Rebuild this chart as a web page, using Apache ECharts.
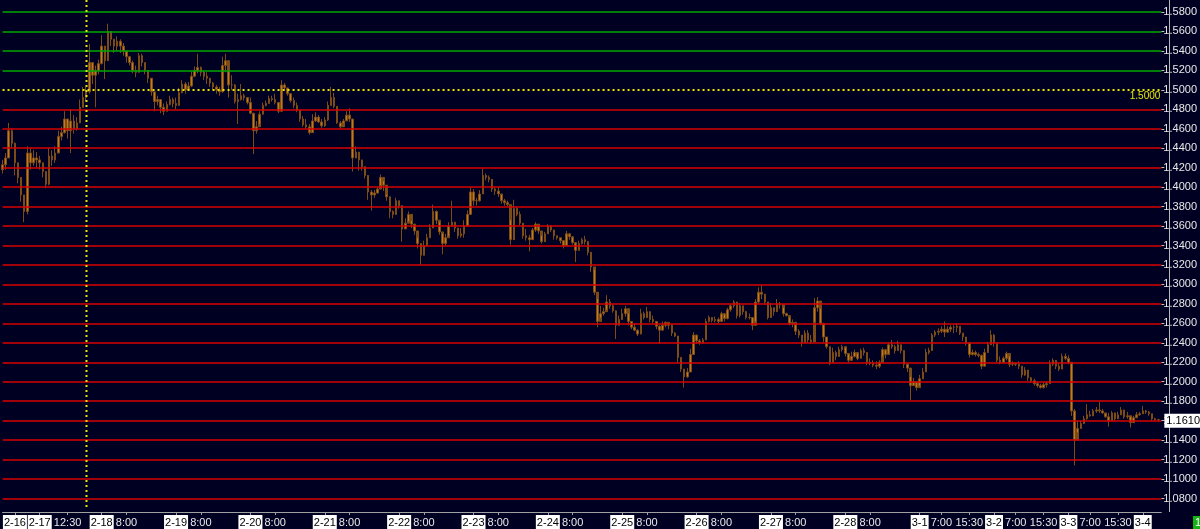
<!DOCTYPE html>
<html><head><meta charset="utf-8">
<script src="https://cdn.jsdelivr.net/npm/echarts/dist/echarts.min.js"></script>
<style>html,body{margin:0;padding:0;background:#000022;overflow:hidden}#c{width:1200px;height:529px}</style>
</head><body><div id="c"></div>
<script>
// ---- data (hourly candles; open of each candle = previous close) ----
const firstOpen = 1.418;
const closes = [
1.423,1.430,1.458,1.445,1.425,1.410,1.392,1.375,1.435,1.425,
1.430,1.428,1.425,1.416,1.403,1.432,1.428,1.435,1.452,1.456,
1.470,1.458,1.468,1.460,1.466,1.482,1.492,1.498,1.528,1.515,
1.520,1.527,1.545,1.530,1.560,1.552,1.545,1.550,1.545,1.540,
1.534,1.528,1.520,1.518,1.535,1.528,1.520,1.512,1.498,1.488,
1.490,1.482,1.478,1.485,1.490,1.486,1.484,1.497,1.506,1.500,
1.504,1.514,1.520,1.523,1.518,1.514,1.512,1.507,1.503,1.500,
1.498,1.525,1.530,1.505,1.505,1.488,1.490,1.494,1.492,1.487,
1.476,1.458,1.462,1.475,1.484,1.486,1.491,1.490,1.487,1.478,
1.505,1.502,1.496,1.489,1.484,1.479,1.470,1.464,1.462,1.456,
1.468,1.472,1.467,1.463,1.469,1.484,1.492,1.483,1.466,1.462,
1.468,1.474,1.470,1.430,1.436,1.428,1.421,1.412,1.395,1.392,
1.394,1.398,1.410,1.402,1.390,1.375,1.372,1.386,1.381,1.357,
1.363,1.372,1.362,1.355,1.342,1.330,1.340,1.348,1.358,1.375,
1.366,1.354,1.342,1.348,1.360,1.364,1.358,1.350,1.352,1.360,
1.372,1.395,1.386,1.386,1.393,1.412,1.410,1.408,1.398,1.396,
1.393,1.386,1.384,1.382,1.346,1.378,1.372,1.363,1.350,1.348,
1.346,1.356,1.362,1.355,1.344,1.352,1.360,1.356,1.350,1.348,
1.345,1.340,1.352,1.349,1.343,1.335,1.342,1.346,1.344,1.333,
1.318,1.292,1.262,1.270,1.272,1.282,1.278,1.273,1.258,1.264,
1.270,1.275,1.262,1.256,1.253,1.249,1.270,1.266,1.272,1.264,
1.262,1.257,1.253,1.258,1.261,1.258,1.250,1.247,1.225,1.213,
1.205,1.210,1.228,1.248,1.242,1.240,1.243,1.262,1.266,1.263,
1.264,1.262,1.270,1.265,1.274,1.278,1.282,1.268,1.278,1.272,
1.266,1.266,1.258,1.282,1.292,1.290,1.282,1.266,1.276,1.272,
1.280,1.279,1.270,1.268,1.260,1.261,1.252,1.248,1.240,1.250,
1.243,1.241,1.276,1.283,1.260,1.246,1.236,1.220,1.230,1.226,
1.233,1.236,1.229,1.222,1.226,1.230,1.224,1.232,1.230,1.220,
1.219,1.217,1.216,1.220,1.233,1.228,1.238,1.236,1.232,1.238,
1.232,1.218,1.214,1.196,1.200,1.194,1.203,1.210,1.230,1.232,
1.248,1.251,1.252,1.254,1.251,1.254,1.256,1.256,1.257,1.250,
1.246,1.240,1.228,1.230,1.228,1.227,1.216,1.230,1.238,1.248,
1.240,1.222,1.220,1.224,1.229,1.218,1.219,1.218,1.216,1.207,
1.212,1.204,1.201,1.198,1.196,1.194,1.197,1.198,1.218,1.222,
1.216,1.213,1.226,1.224,1.220,1.170,1.140,1.152,1.157,1.162,
1.166,1.165,1.170,1.171,1.170,1.168,1.164,1.160,1.168,1.162,
1.166,1.171,1.164,1.165,1.158,1.163,1.166,1.167,1.170,1.169,
1.167,1.162,1.161,1.161
];
const highs = [
1.428,1.435,1.466,1.460,1.446,1.425,1.410,1.392,1.442,1.440,
1.438,1.436,1.432,1.425,1.416,1.440,1.438,1.442,1.458,1.462,
1.478,1.470,1.480,1.474,1.472,1.490,1.503,1.503,1.547,1.528,
1.525,1.531,1.556,1.540,1.568,1.560,1.552,1.555,1.552,1.548,
1.540,1.535,1.530,1.525,1.538,1.537,1.528,1.520,1.512,1.498,
1.494,1.490,1.486,1.488,1.494,1.492,1.492,1.502,1.510,1.508,
1.508,1.519,1.524,1.537,1.524,1.520,1.518,1.512,1.508,1.505,
1.503,1.534,1.537,1.520,1.515,1.506,1.496,1.506,1.496,1.492,
1.492,1.475,1.468,1.478,1.487,1.489,1.494,1.494,1.496,1.487,
1.510,1.507,1.502,1.496,1.492,1.487,1.479,1.473,1.470,1.465,
1.475,1.477,1.474,1.470,1.472,1.488,1.503,1.497,1.480,1.468,
1.470,1.478,1.481,1.470,1.442,1.434,1.424,1.420,1.404,1.397,
1.397,1.400,1.413,1.406,1.392,1.389,1.376,1.389,1.386,1.370,
1.368,1.375,1.365,1.361,1.348,1.338,1.345,1.352,1.362,1.382,
1.376,1.364,1.352,1.352,1.364,1.386,1.364,1.358,1.358,1.366,
1.376,1.400,1.398,1.389,1.397,1.419,1.414,1.412,1.406,1.400,
1.400,1.392,1.388,1.386,1.366,1.387,1.380,1.375,1.361,1.357,
1.351,1.358,1.364,1.359,1.350,1.354,1.362,1.361,1.353,1.350,
1.348,1.345,1.355,1.353,1.348,1.342,1.345,1.348,1.350,1.340,
1.325,1.315,1.285,1.278,1.276,1.289,1.285,1.279,1.265,1.268,
1.275,1.278,1.270,1.262,1.260,1.254,1.275,1.272,1.277,1.270,
1.268,1.262,1.258,1.262,1.262,1.261,1.259,1.251,1.240,1.220,
1.213,1.214,1.234,1.251,1.248,1.244,1.245,1.265,1.268,1.266,
1.267,1.266,1.272,1.269,1.276,1.280,1.284,1.280,1.281,1.278,
1.273,1.270,1.266,1.285,1.297,1.299,1.287,1.279,1.281,1.276,
1.285,1.282,1.276,1.271,1.266,1.264,1.258,1.254,1.248,1.253,
1.253,1.248,1.286,1.287,1.275,1.258,1.246,1.236,1.235,1.232,
1.236,1.238,1.235,1.228,1.231,1.233,1.229,1.234,1.235,1.226,
1.224,1.222,1.221,1.222,1.235,1.232,1.240,1.243,1.238,1.242,
1.236,1.228,1.218,1.205,1.204,1.200,1.207,1.214,1.234,1.235,
1.250,1.253,1.255,1.257,1.262,1.257,1.258,1.258,1.260,1.257,
1.249,1.246,1.240,1.233,1.232,1.230,1.228,1.234,1.241,1.253,
1.249,1.240,1.226,1.226,1.231,1.226,1.221,1.220,1.221,1.214,
1.215,1.210,1.205,1.203,1.200,1.198,1.199,1.200,1.222,1.224,
1.220,1.219,1.229,1.229,1.227,1.219,1.172,1.160,1.160,1.165,
1.177,1.170,1.172,1.174,1.179,1.172,1.167,1.168,1.170,1.167,
1.169,1.174,1.169,1.169,1.164,1.165,1.169,1.169,1.175,1.171,
1.170,1.165,1.163,1.162
];
const lows = [
1.414,1.418,1.430,1.440,1.412,1.404,1.385,1.364,1.372,1.418,
1.422,1.420,1.418,1.410,1.399,1.402,1.422,1.425,1.436,1.448,
1.455,1.450,1.435,1.455,1.458,1.466,1.485,1.488,1.496,1.506,
1.482,1.516,1.526,1.511,1.530,1.545,1.538,1.540,1.538,1.535,
1.528,1.525,1.517,1.513,1.518,1.524,1.516,1.507,1.494,1.478,
1.484,1.476,1.474,1.478,1.484,1.482,1.480,1.484,1.497,1.496,
1.499,1.503,1.513,1.517,1.514,1.510,1.506,1.503,1.500,1.496,
1.494,1.497,1.518,1.492,1.500,1.486,1.465,1.489,1.489,1.485,
1.475,1.434,1.455,1.465,1.480,1.483,1.486,1.488,1.485,1.476,
1.478,1.499,1.494,1.487,1.481,1.477,1.467,1.462,1.460,1.454,
1.456,1.467,1.466,1.461,1.462,1.468,1.484,1.481,1.465,1.460,
1.466,1.469,1.467,1.416,1.430,1.417,1.417,1.409,1.387,1.376,
1.389,1.393,1.402,1.396,1.386,1.368,1.368,1.382,1.378,1.344,
1.358,1.365,1.358,1.351,1.337,1.320,1.333,1.343,1.353,1.358,
1.362,1.351,1.331,1.340,1.350,1.360,1.354,1.347,1.348,1.348,
1.361,1.372,1.381,1.381,1.385,1.393,1.407,1.405,1.395,1.392,
1.390,1.383,1.381,1.380,1.341,1.360,1.370,1.361,1.347,1.345,
1.334,1.346,1.354,1.352,1.342,1.347,1.352,1.354,1.346,1.346,
1.342,1.337,1.340,1.346,1.341,1.323,1.339,1.341,1.341,1.330,
1.313,1.289,1.256,1.266,1.268,1.274,1.275,1.271,1.244,1.260,
1.266,1.267,1.258,1.254,1.252,1.247,1.250,1.264,1.267,1.261,
1.260,1.254,1.239,1.253,1.256,1.254,1.247,1.246,1.220,1.210,
1.194,1.204,1.210,1.228,1.239,1.238,1.239,1.243,1.261,1.261,
1.261,1.260,1.262,1.262,1.264,1.272,1.276,1.265,1.266,1.269,
1.264,1.264,1.253,1.262,1.280,1.285,1.279,1.264,1.268,1.268,
1.274,1.275,1.267,1.267,1.258,1.256,1.248,1.245,1.236,1.241,
1.240,1.239,1.262,1.272,1.258,1.241,1.234,1.217,1.223,1.222,
1.229,1.231,1.226,1.220,1.223,1.225,1.222,1.226,1.227,1.217,
1.217,1.215,1.213,1.214,1.226,1.224,1.229,1.234,1.229,1.232,
1.229,1.214,1.210,1.181,1.196,1.191,1.196,1.207,1.212,1.228,
1.240,1.246,1.248,1.250,1.246,1.250,1.251,1.250,1.251,1.248,
1.242,1.237,1.225,1.227,1.226,1.225,1.213,1.216,1.230,1.238,
1.236,1.220,1.218,1.220,1.222,1.215,1.216,1.216,1.213,1.204,
1.206,1.201,1.199,1.196,1.194,1.193,1.193,1.194,1.198,1.216,
1.213,1.211,1.214,1.222,1.218,1.165,1.114,1.148,1.154,1.160,
1.161,1.164,1.166,1.168,1.168,1.167,1.163,1.154,1.165,1.160,
1.163,1.168,1.162,1.162,1.153,1.159,1.164,1.165,1.167,1.167,
1.165,1.160,1.160,1.159
];
// x tick labels: [hour-slot index, text]
const tickLabels = [
[4,'2-16'],[12,'2-17'],[21,'12:30'],[32,'2-18'],[40,'8:00'],[56,'2-19'],[64,'8:00'],
[80,'2-20'],[88,'8:00'],[104,'2-21'],[112,'8:00'],[128,'2-22'],[136,'8:00'],
[152,'2-23'],[160,'8:00'],[176,'2-24'],[184,'8:00'],[200,'2-25'],[208,'8:00'],
[224,'2-26'],[232,'8:00'],[248,'2-27'],[256,'8:00'],[272,'2-28'],[280,'8:00'],
[296,'3-1'],[303,'7:00'],[312,'15:30'],[320,'3-2'],[327,'7:00'],[336,'15:30'],
[344,'3-3'],[351,'7:00'],[360,'15:30'],[368,'3-4']
];
const levels = [1.08,1.10,1.12,1.14,1.16,1.18,1.20,1.22,1.24,1.26,1.28,1.30,1.32,1.34,1.36,1.38,1.40,1.42,1.44,1.46,1.48,1.50,1.52,1.54,1.56,1.58];
const refLevel = 1.50;
const cursorIndex = 27;
const yMin = 1.08, yMax = 1.58, yStep = 0.02;

// ---- build ----
const categories = [];
for (let i = 0; i <= closes.length; i++) categories.push('h' + i);
const candles = closes.map((c, i) => [i === 0 ? firstOpen : closes[i - 1], c, lows[i], highs[i]]);
const tickMap = new Map(tickLabels);
const lastPrice = closes[closes.length - 1];
const FONT = 'Liberation Sans, Arial, sans-serif';

const G = {left: 0, right: 31.25, top: 12, bottom: 30.5};
const AXIS_Y = 512;

const levelLines = levels.filter(v => Math.abs(v - refLevel) > 1e-9).map(v => ({
  yAxis: v,
  lineStyle: {color: v > refLevel ? '#00a800' : '#d80000', width: 1.6, type: 'solid'}
}));
levelLines.push({
  yAxis: refLevel,
  lineStyle: {color: '#e6e600', width: 2, type: [2, 3]},
  label: {show: true, position: 'insideEndBottom', formatter: refLevel.toFixed(4),
    color: '#e6e600', fontSize: 10, fontFamily: FONT, distance: 1}
});

const chart = echarts.init(document.getElementById('c'), null, {renderer: 'canvas'});
chart.setOption({
  backgroundColor: '#000022',
  animation: false,
  grid: {left: G.left, right: G.right, top: G.top, bottom: G.bottom, containLabel: false},
  xAxis: {
    type: 'category', data: categories, boundaryGap: false, offset: AXIS_Y - (529 - G.bottom),
    axisLine: {show: true, lineStyle: {color: '#a0a0a0', width: 1}},
    axisTick: {show: true, interval: (i) => tickMap.has(i), length: 3, lineStyle: {color: '#a0a0a0'}},
    axisLabel: {
      interval: (i) => tickMap.has(i), margin: 3, hideOverlap: false,
      formatter: (v, i) => { const t = tickMap.get(i); if (!t) return ''; return t.indexOf('-') >= 0 ? '{d|' + t + '}' : '{t|' + t + '}'; },
      rich: {
        d: {backgroundColor: '#ffffff', color: '#000000', fontSize: 11, fontFamily: FONT, padding: [2, 1, 1, 1]},
        t: {color: '#e8e8e8', fontSize: 11, fontFamily: FONT, padding: [2, 0, 1, 0]}
      }
    },
    splitLine: {show: false}
  },
  yAxis: {
    type: 'value', position: 'right', min: yMin, max: yMax, interval: yStep,
    axisLine: {show: false},
    axisTick: {show: true, length: 3, lineStyle: {color: '#c0c0c0'}},
    axisLabel: {color: '#e8e8e8', fontSize: 11, fontFamily: FONT, margin: 2, formatter: v => v.toFixed(4)},
    splitLine: {show: false}
  },
  series: [
    {
      type: 'line', data: [], z: 1, silent: true,
      markLine: {silent: true, symbol: ['none', 'none'], animation: false, label: {show: false}, data: levelLines}
    },
    {
      type: 'candlestick', data: candles, z: 3, barWidth: 2,
      itemStyle: {color: '#c47a1c', color0: '#c47a1c', borderColor: '#7c4c16', borderColor0: '#7c4c16', borderWidth: 1},
      markLine: {
        silent: true, symbol: ['none', 'none'], animation: false, z: 20,
        data: [{
          yAxis: lastPrice, lineStyle: {width: 0, color: 'rgba(0,0,0,0)'},
          label: {show: true, position: 'end', distance: 3, formatter: lastPrice.toFixed(4),
            backgroundColor: '#ffffff', color: '#000000', fontSize: 11, fontFamily: FONT, padding: [2, 2, 1, 2]}
        }]
      }
    }
  ]
});

// frame lines, cursor line and corner badge (positions from the chart's own scales)
const frameX = Math.round(1200 - G.right) + 0.5;
const cursorX = Math.floor(chart.convertToPixel({xAxisIndex: 0}, categories[cursorIndex])) + 0.5;
chart.setOption({
  graphic: [
    {type: 'line', z: 10, shape: {x1: frameX, y1: 0, x2: frameX, y2: AXIS_Y}, style: {stroke: '#b8b8b8', lineWidth: 1}},
    {type: 'line', z: 10, shape: {x1: cursorX, y1: 0, x2: cursorX, y2: AXIS_Y - 2}, style: {stroke: '#e6e600', lineWidth: 2, lineDash: [2, 3]}},
    {type: 'rect', z: 10, shape: {x: 1193, y: 516, width: 12, height: 13}, style: {fill: '#14b414'}},
    {type: 'text', z: 11, x: 1195, y: 517, style: {text: '1', fill: '#ffffff', font: '11px ' + FONT}}
  ]
});
</script>
</body></html>
